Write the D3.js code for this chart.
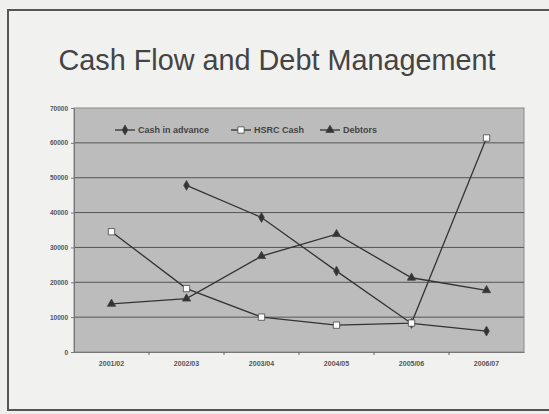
<!DOCTYPE html>
<html>
<head>
<meta charset="utf-8">
<script src="https://cdn.jsdelivr.net/npm/d3@7"></script>
<style>
  html, body { margin: 0; padding: 0; background: #efefed; }
  svg { display: block; font-family: "Liberation Sans", Arial, sans-serif; }
</style>
</head>
<body>
<div id="app"></div>
<script>
// chart data
const categories = ['2001/02', '2002/03', '2003/04', '2004/05', '2005/06', '2006/07'];
const cashInAdvance = [null, 47800, 38600, 23200, 8200, 6000];
const hsrcCash = [34500, 18200, 10000, 7700, 8300, 61400];
const debtors = [13800, 15300, 27500, 33800, 21300, 17700];
const yTicks = [0, 10000, 20000, 30000, 40000, 50000, 60000, 70000];
const seriesNames = ['Cash in advance', 'HSRC Cash', 'Debtors'];

const outerWidth = 549, outerHeight = 414;
const margin = { top: 108, right: 25, bottom: 62, left: 74 };
const width = outerWidth - margin.left - margin.right,
	height = outerHeight - margin.top - margin.bottom;

const svg = d3.select('#app').append('svg')
	.attr('width', outerWidth)
	.attr('height', outerHeight);

// slide frame
svg.append('rect')
	.attr('x', 8).attr('y', 10)
	.attr('width', 560).attr('height', 400)
	.attr('fill', '#f1f1ef')
	.attr('stroke', '#555')
	.attr('stroke-width', 2);

svg.append('text')
	.attr('x', 277).attr('y', 70)
	.attr('text-anchor', 'middle')
	.attr('font-size', 28.8)
	.attr('fill', '#444')
	.text('Cash Flow and Debt Management');

const graph = svg.append('g')
	.attr('transform', `translate(${margin.left},${margin.top})`);

const x = d3.scaleBand().domain(categories).range([0, width]);
const y = d3.scaleLinear().domain([0, 70000]).range([height, 0]);

graph.append('rect')
	.attr('width', width).attr('height', height)
	.attr('fill', '#bcbcbc')
	.attr('stroke', '#8a8a8a');

// gridlines
graph.append('g')
	.selectAll('line')
	.data(yTicks.filter(d => d > 0 && d < 70000))
	.enter().append('line')
		.attr('x1', 0).attr('x2', width)
		.attr('y1', d => y(d)).attr('y2', d => y(d))
		.attr('stroke', '#555')
		.attr('stroke-width', 1);

const yAxis = graph.append('g')
	.call(d3.axisLeft(y).tickValues(yTicks).tickSize(3).tickPadding(3).tickFormat(d3.format('d')));
const xAxis = graph.append('g')
	.attr('transform', `translate(0,${height})`)
	.call(d3.axisBottom(x).tickSize(0).tickPadding(9));

// category separator ticks
graph.append('g')
	.selectAll('line')
	.data(categories.slice(1))
	.enter().append('line')
		.attr('x1', d => x(d)).attr('x2', d => x(d))
		.attr('y1', height).attr('y2', height + 3)
		.attr('stroke', '#666');

[yAxis, xAxis].forEach(a => {
	a.select('.domain').attr('stroke', '#777');
	a.selectAll('.tick line').attr('stroke', '#777');
	a.selectAll('text')
		.attr('font-weight', 'bold')
		.attr('fill', '#555')
		.attr('font-family', '"Liberation Sans", Arial, sans-serif');
});
yAxis.selectAll('text').attr('font-size', 6.5);
xAxis.selectAll('text').attr('font-size', 7);

const cx = d => x(d) + x.bandwidth() / 2;
const line = d3.line()
	.defined(d => d.v != null)
	.x(d => cx(d.c))
	.y(d => y(d.v));

const series = [cashInAdvance, hsrcCash, debtors].map((vals, i) => ({
	name: seriesNames[i],
	values: vals.map((v, j) => ({ c: categories[j], v: v }))
}));

const symbols = [
	d3.symbol().type(d3.symbolDiamond).size(28),
	d3.symbol().type(d3.symbolSquare).size(40),
	d3.symbol().type(d3.symbolTriangle).size(30)
];
const fills = ['#333', '#fff', '#333'];

series.forEach((s, i) => {
	graph.append('path')
		.datum(s.values)
		.attr('fill', 'none')
		.attr('stroke', '#333')
		.attr('stroke-width', 1.3)
		.attr('d', line);
	graph.append('g')
		.selectAll('path')
		.data(s.values.filter(d => d.v != null))
		.enter().append('path')
			.attr('transform', d => `translate(${cx(d.c)},${y(d.v)})`)
			.attr('d', symbols[i])
			.attr('fill', fills[i])
			.attr('stroke', '#444')
			.attr('stroke-width', 0.8);
});

// legend
const legendX = [41, 157, 246];
const legend = graph.append('g').attr('transform', 'translate(0,22)');
series.forEach((s, i) => {
	const g = legend.append('g').attr('transform', `translate(${legendX[i]},0)`);
	g.append('line').attr('x1', 0).attr('x2', 20)
		.attr('stroke', '#333').attr('stroke-width', 1.3);
	g.append('path').attr('transform', 'translate(10,0)')
		.attr('d', symbols[i]).attr('fill', fills[i])
		.attr('stroke', '#444').attr('stroke-width', 0.8);
	g.append('text').attr('x', 23).attr('y', 3)
		.attr('font-size', 9).attr('font-weight', 'bold').attr('fill', '#444')
		.text(s.name);
});
</script>
</body>
</html>
